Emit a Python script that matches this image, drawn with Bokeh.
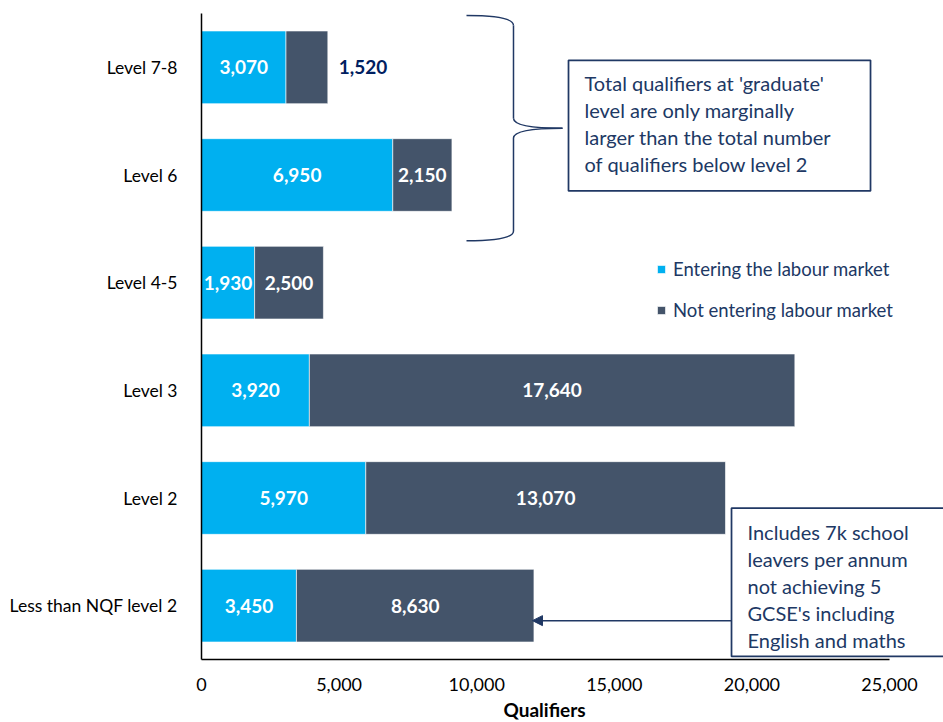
from bokeh.plotting import figure
from bokeh.models import (ColumnDataSource, FactorRange, Range1d, FixedTicker, NumeralTickFormatter,
                          Legend, LegendItem, BoxAnnotation, Label, Arrow, NormalHead, Title)
from bokeh.core.properties import value
from bokeh.embed import file_html
from bokeh.resources import INLINE

# ---------------- data ----------------
categories = ["Level 7-8", "Level 6", "Level 4-5", "Level 3", "Level 2", "Less than NQF level 2"]
entering = [3070, 6950, 1930, 3920, 5970, 3450]
not_entering = [1520, 2150, 2500, 17640, 13070, 8630]
series_names = ["Entering the labour market", "Not entering labour market"]
x_ticks = [0, 5000, 10000, 15000, 20000, 25000]
axis_title = "Qualifiers"
note_graduate = ["Total qualifiers at 'graduate'", "level are only marginally",
                 "larger than the total number", "of qualifiers below level 2"]
note_school = ["Includes 7k school", "leavers per annum", "not achieving 5",
               "GCSE's including", "English and maths"]

BLUE = "#00B0F0"
SLATE = "#44546A"
NAVY = "#203864"
FONT = "Lato"

factors = list(reversed(categories))
p = figure(width=943, height=722, y_range=FactorRange(factors=factors), x_range=Range1d(0, 26962),
           output_backend="svg", toolbar_location=None,
           min_border_left=201, min_border_right=0, min_border_top=13, min_border_bottom=0)
p.outline_line_color = None
p.grid.grid_line_color = None
p.background_fill_color = "white"

src = ColumnDataSource(dict(cat=categories, enter=entering, notenter=not_entering))
rs = p.hbar_stack(["enter", "notenter"], y="cat", height=0.675, color=[BLUE, SLATE],
                  line_color="white", line_width=0.6, source=src)

# value labels
in_x, in_y, in_t = [], [], []
out_x, out_y, out_t = [], [], []
for c, e, n in zip(categories, entering, not_entering):
    in_x.append(e / 2); in_y.append(c); in_t.append(f"{e:,}")
    if n < 2000:
        out_x.append(e + n); out_y.append(c); out_t.append(f"{n:,}")
    else:
        in_x.append(e + n / 2); in_y.append(c); in_t.append(f"{n:,}")

p.text(x="x", y="y", text="t", source=ColumnDataSource(dict(x=in_x, y=in_y, t=in_t)),
       text_color="white", text_font=value(FONT), text_font_style="bold", text_font_size="19px",
       text_align="center", text_baseline="middle")
p.text(x="x", y="y", text="t", source=ColumnDataSource(dict(x=out_x, y=out_y, t=out_t)),
       text_color="#002060", text_font=value(FONT), text_font_style="bold", text_font_size="19px",
       text_align="left", text_baseline="middle", x_offset=11)

# axes
xa = p.xaxis[0]
xa.ticker = FixedTicker(ticks=x_ticks)
xa.formatter = NumeralTickFormatter(format="0,0")
xa.bounds = (0, 25000)
xa.major_label_text_font = FONT
xa.major_label_text_font_size = "18px"
xa.major_label_text_color = "black"
xa.major_label_standoff = 12
xa.major_tick_line_color = None
xa.minor_tick_line_color = None
xa.axis_line_color = "black"
xa.axis_line_width = 1.5

# axis title, centred under the 0-25,000 span of the axis
p.add_layout(Title(text=axis_title, align="left", offset=302, standoff=4,
                   text_font=FONT, text_font_size="19px", text_font_style="bold",
                   text_color="black"), "below")

ya = p.yaxis[0]
ya.major_label_text_font = FONT
ya.major_label_text_font_size = "17.5px"
ya.major_label_text_color = "black"
ya.major_label_standoff = 18
ya.major_tick_line_color = None
ya.minor_tick_line_color = None
ya.axis_line_color = "black"
ya.axis_line_width = 1.5

# legend
legend = Legend(items=[LegendItem(label=series_names[0], renderers=[rs[0]]),
                       LegendItem(label=series_names[1], renderers=[rs[1]])],
                location=(455, 338), padding=0, margin=0, spacing=19,
                glyph_width=10, glyph_height=10, label_standoff=7, label_height=20,
                label_text_font=FONT, label_text_font_size="18.5px", label_text_color=NAVY,
                border_line_color=None, background_fill_alpha=0)
p.add_layout(legend)

# brace (y in synthetic category units: 0 = bottom, 6 = top)
p.quadratic(x0=[9629, 11337, 13118, 11337], y0=[5.981, 5.028, 4.935, 3.981],
            x1=[11337, 13118, 11337, 9629], y1=[5.889, 4.935, 4.843, 3.889],
            cx=[11337, 11337, 11337, 11337], cy=[5.981, 4.935, 4.935, 3.889],
            line_color=NAVY, line_width=1.5)
p.segment(x0=[11337, 11337], y0=[5.889, 4.843], x1=[11337, 11337], y1=[5.028, 3.981],
          line_color=NAVY, line_width=1.5)

# note boxes
p.add_layout(BoxAnnotation(left=13336, right=24310, top=5.565, bottom=4.352,
                           fill_color="white", fill_alpha=1,
                           line_color=NAVY, line_alpha=1, line_width=1.75))
p.add_layout(BoxAnnotation(left=19259, right=27800, top=1.407, bottom=0.028,
                           fill_color="white", fill_alpha=1,
                           line_color=NAVY, line_alpha=1, line_width=1.75))
for i, t in enumerate(note_graduate):
    p.add_layout(Label(x=13917, y=5.352 - 0.25 * i, text=t,
                       text_font=FONT, text_font_size="20px", text_color=NAVY, text_baseline="middle"))
for i, t in enumerate(note_school):
    p.add_layout(Label(x=19840, y=1.185 - 0.25 * i, text=t,
                       text_font=FONT, text_font_size="20px", text_color=NAVY, text_baseline="middle"))

p.add_layout(Arrow(x_start=19259, y_start=0.361, x_end=12027, y_end=0.361,
                   line_color=NAVY, line_width=1.5,
                   end=NormalHead(size=10, fill_color=NAVY, line_color=NAVY)))

open("out.html", "w").write(file_html(p, INLINE))
